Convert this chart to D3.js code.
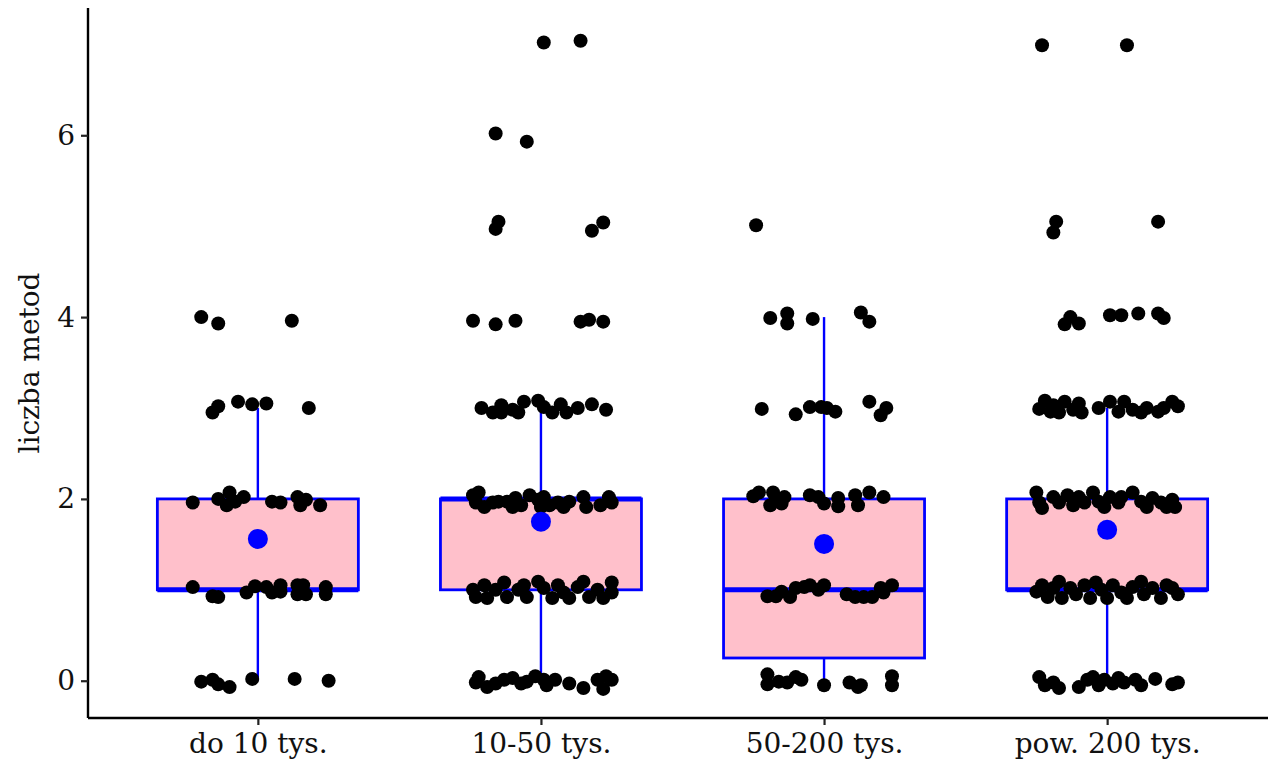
<!DOCTYPE html>
<html>
<head>
<meta charset="utf-8">
<script src="https://cdn.jsdelivr.net/npm/d3@7"></script>
<style>
  body { margin: 0; background: #fff; }
  svg text { font-family: "DejaVu Serif", "Liberation Serif", serif; fill: #111; }
</style>
</head>
<body>
<div id="container"></div>
<script>
const categories = ["do 10 tys.", "10-50 tys.", "50-200 tys.", "pow. 200 tys."];

// box statistics per category
const q1 = [1, 1, 0.25, 1];
const medians = [1, 2, 1, 1];
const q3 = [2, 2, 2, 2];
const whiskerLo = [0, 0, 0, 0];
const whiskerHi = [3, 3, 4, 3];
const means = [1.56, 1.75, 1.505, 1.66];

const yTicks = [0, 2, 4, 6];

// jittered observations: [x offset in category units, value]
const pts1 = [
  [-0.20, 4.00], [-0.14, 3.93], [0.12, 3.96],
  [-0.16, 2.95], [-0.14, 3.02], [-0.07, 3.07], [-0.02, 3.04], [0.03, 3.05], [0.18, 3.00],
  [-0.23, 1.96], [-0.14, 2.00], [-0.10, 2.07], [-0.11, 1.93], [-0.05, 2.02], [-0.08, 1.97],
  [0.05, 1.97], [0.08, 1.96], [0.14, 2.02], [0.15, 1.93], [0.17, 1.99], [0.22, 1.93],
  [-0.23, 1.03], [-0.16, 0.93], [-0.14, 0.92], [-0.04, 0.97], [-0.01, 1.04], [0.03, 1.03],
  [0.05, 0.97], [0.08, 1.05], [0.08, 0.98], [0.14, 1.05], [0.14, 0.95], [0.16, 1.05],
  [0.17, 0.95], [0.24, 1.03], [0.24, 0.95],
  [-0.20, -0.01], [-0.16, 0.01], [-0.14, -0.04], [-0.10, -0.07], [-0.02, 0.02], [0.13, 0.02], [0.25, 0.00]
];

const pts2 = [
  [0.01, 7.02], [0.14, 7.04],
  [-0.16, 6.02], [-0.05, 5.93],
  [-0.15, 5.05], [-0.16, 4.97], [0.22, 5.04], [0.18, 4.95],
  [-0.24, 3.96], [-0.16, 3.92], [-0.09, 3.96], [0.14, 3.95], [0.17, 3.97], [0.22, 3.95],
  [-0.21, 3.00], [-0.17, 2.95], [-0.14, 3.03], [-0.14, 2.95], [-0.10, 2.98], [-0.08, 2.95],
  [-0.06, 3.07], [-0.01, 3.08], [0.01, 3.01], [0.04, 2.95], [0.07, 3.04], [0.09, 2.95],
  [0.13, 3.00], [0.18, 3.04], [0.23, 2.98],
  [-0.24, 2.04], [-0.23, 1.96], [-0.20, 1.91], [-0.17, 1.96], [-0.15, 1.97], [-0.12, 1.97],
  [-0.09, 2.01], [-0.07, 1.93], [-0.04, 2.04], [-0.01, 1.99], [0.01, 2.02], [0.03, 1.93],
  [0.06, 1.96], [0.08, 1.91], [0.10, 1.97], [0.15, 2.02], [0.16, 1.91], [0.21, 1.93],
  [0.24, 2.02], [0.25, 1.96], [-0.22, 2.07], [-0.10, 1.91], [0.00, 1.91],
  [-0.24, 1.00], [-0.23, 0.92], [-0.20, 1.05], [-0.19, 0.91], [-0.16, 1.00], [-0.13, 1.08],
  [-0.12, 0.92], [-0.08, 1.00], [-0.06, 1.05], [-0.05, 0.92], [-0.01, 1.09], [0.01, 1.02],
  [0.04, 0.91], [0.06, 1.05], [0.08, 0.97], [0.10, 0.91], [0.13, 1.03], [0.15, 1.09],
  [0.17, 0.92], [0.20, 1.00], [0.22, 0.91], [0.25, 1.08], [0.25, 0.97],
  [-0.23, -0.02], [-0.22, 0.04], [-0.19, -0.07], [-0.16, -0.03], [-0.13, 0.01], [-0.10, 0.03],
  [-0.07, -0.03], [-0.05, -0.01], [-0.02, 0.05], [0.01, 0.01], [0.02, -0.05], [0.05, 0.01],
  [0.10, -0.03], [0.15, -0.08], [0.20, 0.01], [0.22, -0.09], [0.23, 0.05], [0.25, 0.01]
];

const pts3 = [
  [-0.24, 5.01],
  [-0.19, 3.99], [-0.13, 4.04], [-0.13, 3.93], [-0.04, 3.98], [0.13, 4.05], [0.16, 3.95],
  [-0.22, 2.99], [-0.10, 2.93], [-0.05, 3.01], [-0.01, 3.01], [0.01, 3.00], [0.04, 2.96],
  [0.16, 3.07], [0.22, 3.00], [0.20, 2.92],
  [-0.25, 2.03], [-0.23, 2.07], [-0.19, 1.93], [-0.18, 2.07], [-0.17, 2.01], [-0.15, 1.95],
  [-0.14, 2.02], [-0.05, 2.04], [-0.02, 2.02], [0.00, 1.95], [0.05, 2.01], [0.05, 1.92],
  [0.11, 2.04], [0.12, 1.93], [0.16, 2.07], [0.21, 2.02],
  [-0.20, 0.93], [-0.17, 0.93], [-0.15, 0.98], [-0.12, 0.92], [-0.10, 1.02], [-0.07, 1.03],
  [-0.05, 1.05], [-0.02, 1.00], [0.00, 1.05], [0.08, 0.95], [0.11, 0.92], [0.14, 0.92],
  [0.17, 0.92], [0.20, 1.02], [0.21, 0.97], [0.24, 1.05],
  [-0.20, 0.07], [-0.20, -0.04], [-0.16, -0.01], [-0.13, -0.02], [-0.10, 0.04], [-0.08, 0.01],
  [0.00, -0.05], [0.09, -0.02], [0.12, -0.07], [0.13, -0.05], [0.24, 0.05], [0.24, -0.05]
];

const pts4 = [
  [-0.23, 6.99], [0.07, 6.99],
  [-0.18, 5.05], [-0.19, 4.93], [0.18, 5.05],
  [-0.15, 3.92], [-0.13, 4.00], [-0.10, 3.93], [0.01, 4.02], [0.05, 4.02], [0.11, 4.04],
  [0.18, 4.04], [0.20, 3.99],
  [-0.24, 2.99], [-0.22, 3.08], [-0.19, 3.03], [-0.17, 2.95], [-0.15, 3.07], [-0.12, 2.98],
  [-0.10, 3.05], [-0.09, 2.95], [-0.03, 3.00], [0.01, 3.07], [0.04, 2.96], [0.06, 3.07],
  [0.09, 2.98], [0.12, 2.95], [0.14, 3.00], [0.18, 2.96], [0.20, 3.00], [0.23, 3.07],
  [0.25, 3.02], [-0.20, 2.96],
  [-0.25, 2.07], [-0.24, 1.96], [-0.23, 1.90], [-0.19, 2.02], [-0.17, 1.96], [-0.14, 2.04],
  [-0.12, 1.93], [-0.10, 2.02], [-0.08, 1.96], [-0.05, 2.07], [-0.03, 1.97], [-0.01, 1.91],
  [0.01, 2.02], [0.04, 1.96], [0.05, 2.02], [0.09, 2.07], [0.12, 1.97], [0.14, 1.91],
  [0.16, 2.01], [0.19, 1.96], [0.21, 1.91], [0.23, 1.99], [0.24, 1.91],
  [-0.25, 0.98], [-0.23, 1.05], [-0.21, 0.92], [-0.19, 1.02], [-0.17, 1.09], [-0.16, 0.91],
  [-0.13, 1.02], [-0.11, 0.95], [-0.08, 1.05], [-0.06, 0.91], [-0.04, 1.08], [-0.02, 1.00],
  [0.00, 0.91], [0.02, 1.05], [0.05, 0.97], [0.07, 0.91], [0.09, 1.03], [0.12, 1.09],
  [0.13, 0.95], [0.16, 1.02], [0.19, 0.91], [0.21, 1.05], [0.23, 1.02], [0.25, 0.95],
  [-0.24, 0.04], [-0.22, -0.05], [-0.19, -0.02], [-0.17, -0.08], [-0.10, -0.07], [-0.07, 0.01],
  [-0.05, 0.04], [-0.03, -0.05], [-0.01, 0.01], [0.02, -0.03], [0.04, 0.03], [0.06, -0.02],
  [0.10, 0.01], [0.12, -0.05], [0.17, 0.02], [0.23, -0.04], [0.25, -0.02]
];

const points = [pts1, pts2, pts3, pts4];

const width = 1268, height = 768;
const margin = {left: 88, right: 1277, top: 8, bottom: 718};
const boxWidth = 0.71;

const svg = d3.select("#container")
  .append("svg")
  .attr("width", width)
  .attr("height", height);

const x = d3.scalePoint()
  .domain(categories)
  .range([margin.left, margin.right])
  .padding(0.6);

const y = d3.scaleLinear()
  .domain([-0.41, 7.4])
  .range([margin.bottom, margin.top]);

const step = x.step();

// boxes
const boxes = svg.append("g")
  .selectAll("g")
  .data(categories)
  .join("g");

boxes.append("line")
  .attr("x1", d => x(d)).attr("x2", d => x(d))
  .attr("y1", (d, i) => y(q3[i])).attr("y2", (d, i) => y(whiskerHi[i]))
  .attr("stroke", "blue").attr("stroke-width", 2.4);

boxes.append("line")
  .attr("x1", d => x(d)).attr("x2", d => x(d))
  .attr("y1", (d, i) => y(q1[i])).attr("y2", (d, i) => y(whiskerLo[i]))
  .attr("stroke", "blue").attr("stroke-width", 2.4);

boxes.append("rect")
  .attr("x", d => x(d) - boxWidth * step / 2)
  .attr("width", boxWidth * step)
  .attr("y", (d, i) => y(q3[i]))
  .attr("height", (d, i) => y(q1[i]) - y(q3[i]))
  .attr("fill", "pink")
  .attr("stroke", "blue")
  .attr("stroke-width", 2.8);

boxes.append("line")
  .attr("x1", d => x(d) - boxWidth * step / 2)
  .attr("x2", d => x(d) + boxWidth * step / 2)
  .attr("y1", (d, i) => y(medians[i])).attr("y2", (d, i) => y(medians[i]))
  .attr("stroke", "blue").attr("stroke-width", 5);

// jittered points
points.forEach((pts, i) => {
  svg.append("g")
    .selectAll("circle")
    .data(pts)
    .join("circle")
    .attr("cx", d => x(categories[i]) + d[0] * step)
    .attr("cy", d => y(d[1]))
    .attr("r", 7)
    .attr("fill", "black");
});

// means
svg.append("g")
  .selectAll("circle")
  .data(categories)
  .join("circle")
  .attr("cx", d => x(d))
  .attr("cy", (d, i) => y(means[i]))
  .attr("r", 10)
  .attr("fill", "blue");

// axes
const yAxis = svg.append("g")
  .attr("transform", `translate(${margin.left},0)`)
  .call(d3.axisLeft(y).tickValues(yTicks).tickSize(7).tickPadding(6));

const xAxis = svg.append("g")
  .attr("transform", `translate(0,${margin.bottom})`)
  .call(d3.axisBottom(x).tickSize(7).tickPadding(8));

[yAxis, xAxis].forEach(a => {
  a.select(".domain").attr("stroke", "black").attr("stroke-width", 2.4);
  a.selectAll(".tick line").attr("stroke", "#222").attr("stroke-width", 2.2);
  a.selectAll(".tick text").style("font-size", "28px").attr("fill", "#111");
});
yAxis.select(".domain").attr("d", `M0,${margin.top}V${margin.bottom}`);
xAxis.select(".domain").attr("d", `M${margin.left},0H${margin.right}`);

svg.append("text")
  .attr("transform", "rotate(-90)")
  .attr("x", -(margin.top + margin.bottom) / 2)
  .attr("y", 39)
  .attr("text-anchor", "middle")
  .style("font-size", "28px")
  .text("liczba metod");
</script>
</body>
</html>
